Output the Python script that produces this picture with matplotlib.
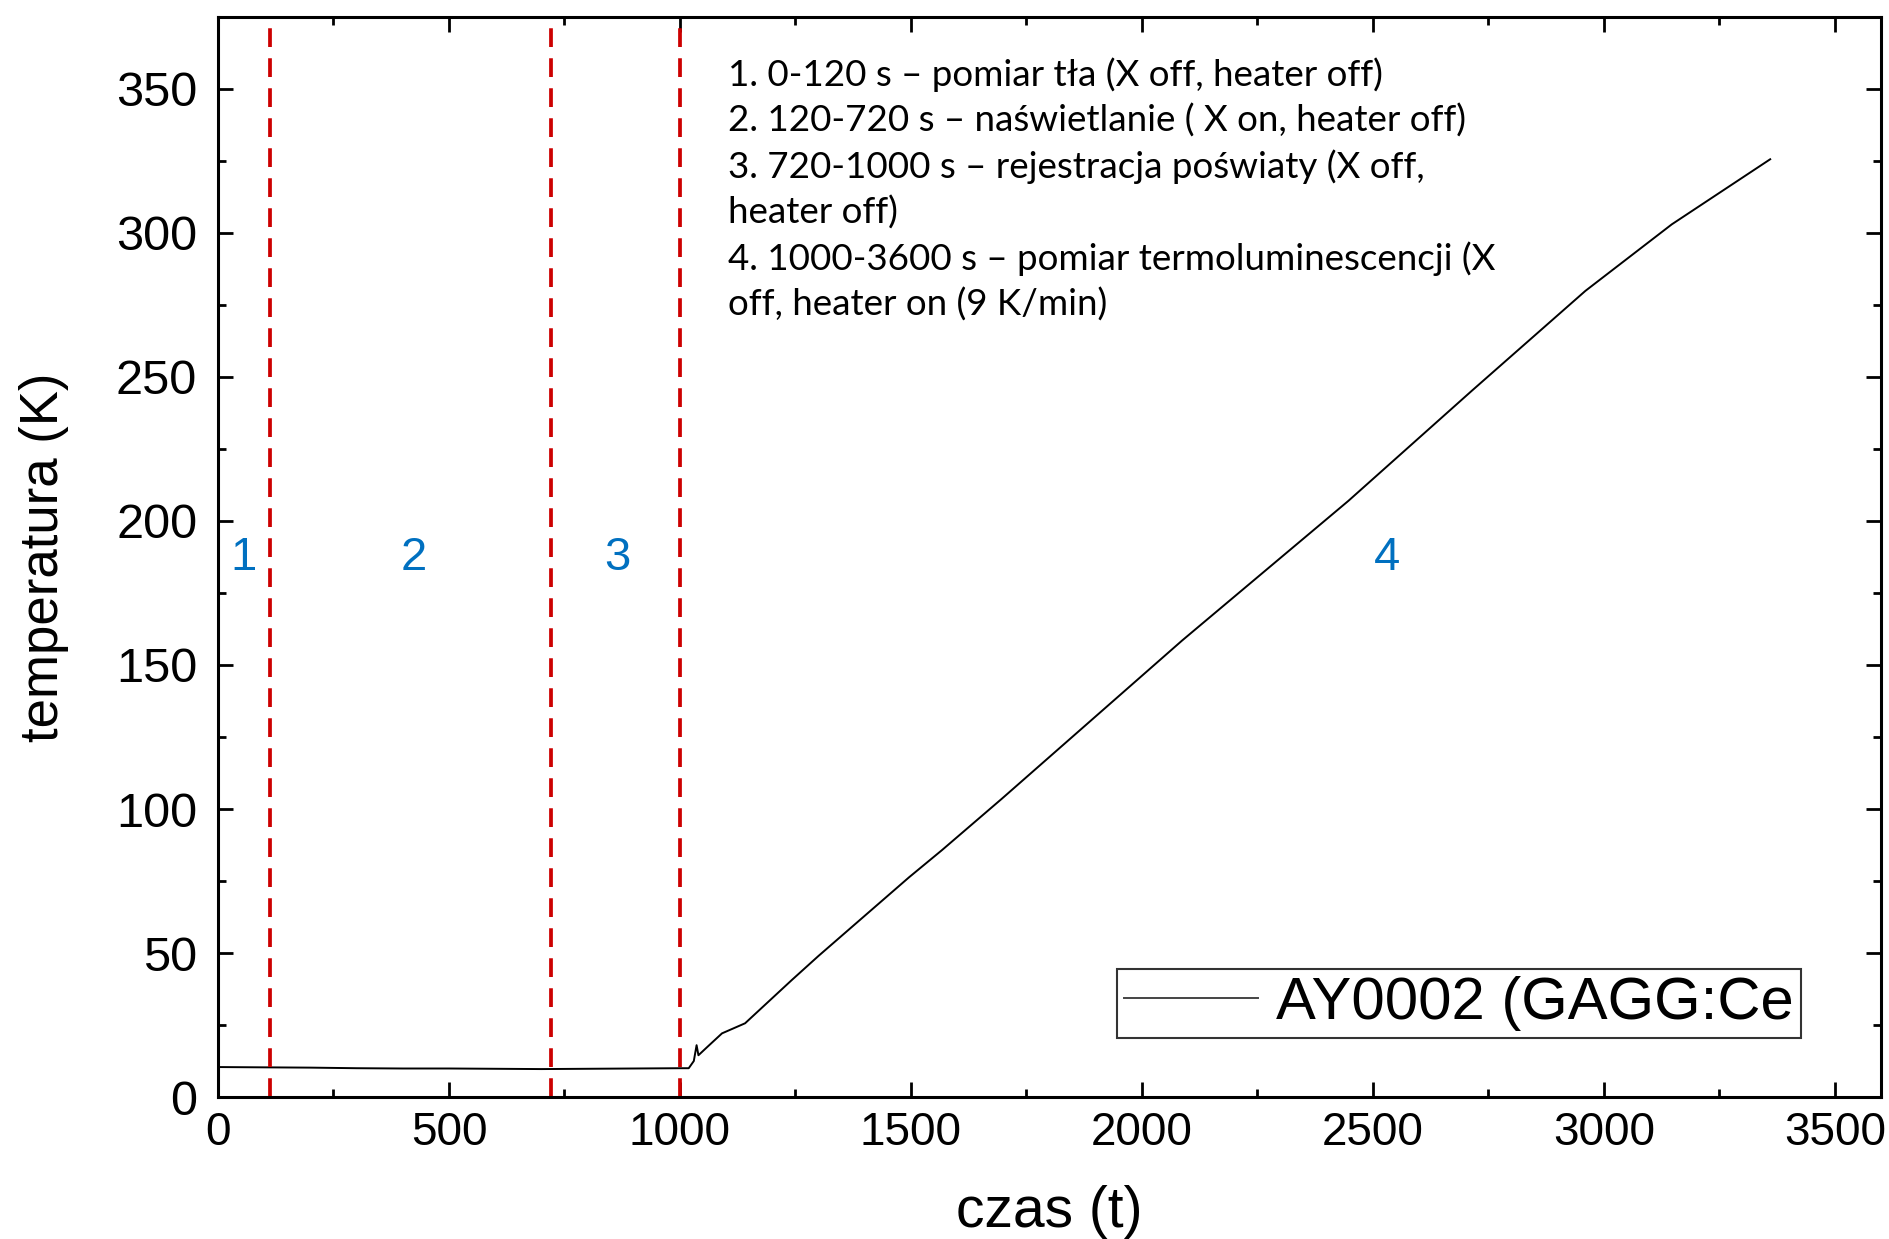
import matplotlib.pyplot as plt
from matplotlib.ticker import MultipleLocator

# temperature log of the sample (time in s, temperature in K)
czas = [0, 100, 200, 300, 400, 500, 600, 700, 800, 900, 1000, 1019,
        1030, 1036, 1040, 1060, 1091, 1141, 1242, 1300, 1496, 1567,
        1697, 2087, 2447, 2714, 2960, 3147, 3360]
temperatura = [10.4, 10.3, 10.2, 10.0, 9.9, 9.9, 9.8, 9.7, 9.8, 9.9, 10.0, 10.0,
               12.5, 18.0, 14.5, 17.5, 22.1, 25.6, 40.6, 49.0, 76.3, 85.7,
               103.6, 158.5, 207.0, 245.2, 279.9, 303.0, 325.6]

# phase boundaries and phase numbers
granice = [112, 720, 1000]
etykiety = ['1', '2', '3', '4']
etykiety_x = [55, 423, 864, 2531]
etykiety_y = 187

opis = ("1. 0-120 s \u2013 pomiar tła (X off, heater off)\n"
        "2. 120-720 s \u2013 naświetlanie ( X on, heater off)\n"
        "3. 720-1000 s \u2013 rejestracja poświaty (X off,\n"
        "heater off)\n"
        "4. 1000-3600 s \u2013 pomiar termoluminescencji (X\n"
        "off, heater on (9 K/min)")

plt.rcParams['font.family'] = ['Liberation Sans', 'DejaVu Sans']

fig = plt.figure(figsize=(18.89, 12.39), dpi=100)
ax = fig.add_axes([0.1154, 0.1146, 0.8804, 0.8717])

ax.plot(czas, temperatura, color='black', lw=1.4, label='AY0002 (GAGG:Ce')

for g in granice:
    ax.axvline(g, color='#cc0000', lw=2.7, linestyle=(0, (5.0, 3.0)))

for lab, x in zip(etykiety, etykiety_x):
    ax.text(x, etykiety_y, lab, color='#0070c0', fontsize=34,
            ha='center', va='center')

ax.text(1104, 361, opis, fontsize=26.5, family=['Lato', 'DejaVu Sans'],
        va='top', ha='left', linespacing=1.41)

ax.set_xlim(0, 3600)
ax.set_ylim(0, 375)
ax.xaxis.set_major_locator(MultipleLocator(500))
ax.xaxis.set_minor_locator(MultipleLocator(250))
ax.yaxis.set_major_locator(MultipleLocator(50))
ax.yaxis.set_minor_locator(MultipleLocator(25))
ax.tick_params(which='both', direction='in', top=True, right=True, width=2)
ax.tick_params(which='major', length=11)
ax.tick_params(which='minor', length=6)
ax.tick_params(axis='x', labelsize=33, pad=10)
ax.tick_params(axis='y', labelsize=35, pad=15)
for s in ax.spines.values():
    s.set_linewidth(2.2)

ax.set_xlabel('czas (t)', fontsize=41, labelpad=22)
ax.set_ylabel('temperatura (K)', fontsize=38, labelpad=34)

leg = ax.legend(loc='lower right', bbox_to_anchor=(0.952, 0.0546),
                fontsize=43, fancybox=False, edgecolor='black',
                handlelength=2.25, borderpad=0.12, handletextpad=0.3,
                borderaxespad=0)
leg.get_frame().set_linewidth(1.5)
leg.get_lines()[0].set_color('#444444')

fig.savefig('out.png', dpi=100)
